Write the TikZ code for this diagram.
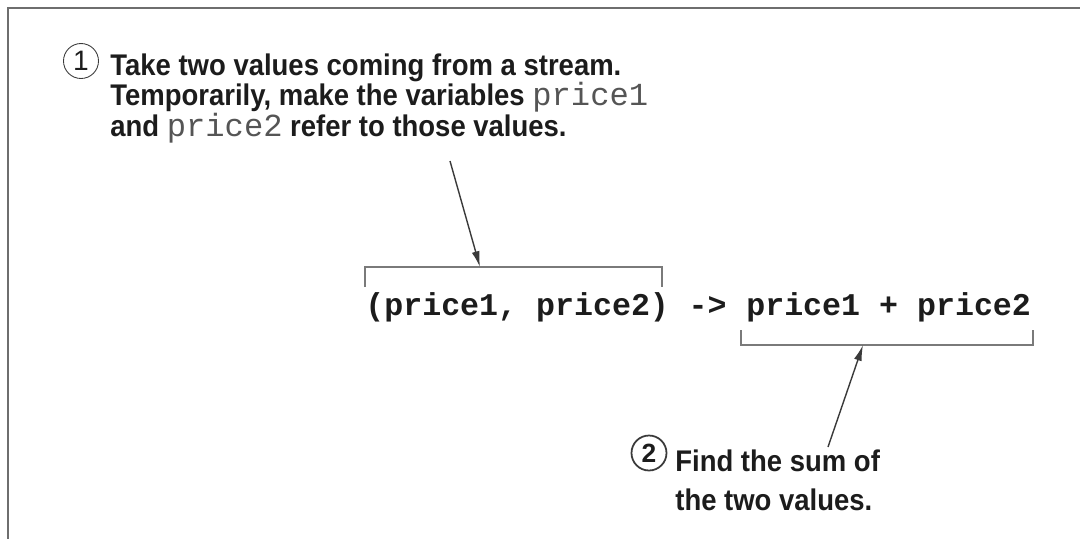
\documentclass[tikz,border=0pt]{standalone}
\usepackage{fontspec}
\setmainfont{Liberation Sans}
\newfontfamily\notefont{Liberation Sans}[FakeStretch=0.92]
\newfontfamily\codefont{Liberation Mono}
\usetikzlibrary{arrows.meta,positioning,calc}
\definecolor{Ink}{HTML}{1C1C1C}
\definecolor{Frame}{HTML}{6E6E6E}
\definecolor{Brace}{HTML}{7A7A7A}
\definecolor{Pointer}{HTML}{3A3A3A}
\definecolor{VarGray}{HTML}{555555}
\newcommand{\codeword}[1]{{\codefont\mdseries\fontsize{18.3}{17}\selectfont\color{VarGray}#1}}

\begin{document}
\begin{tikzpicture}[x=0.02cm, y=-0.02cm,
    note/.style={anchor=base west, inner sep=0pt, align=left, text=Ink, font=\notefont\bfseries\fontsize{17}{17.3}\selectfont},
    code/.style={anchor=base west, inner sep=0pt, text=Ink, font=\codefont\bfseries\fontsize{18}{20}\selectfont},
    badge/.style={circle, draw=Pointer, inner sep=0pt, minimum size=0.7cm, text=Ink},
    brace/.style={draw=Brace, line width=1pt},
    pointer/.style={-{Latex[length=9pt,width=4.5pt]}, draw=Pointer, line width=0.8pt},
]
    \useasboundingbox (0,0) rectangle (1080,539);
    \draw[Frame, line width=1.1pt] (1080,8) -- (8,8) -- (8,539);

    % the lambda
    \node[code] (args) at (365,315) {(price1, price2)};
    \node[code] (maps) at (args.base east) {\ ->\ \mbox{}};
    \node[code] (body) at (maps.base east) {price1 + price2};

    % brackets over the parameters and under the body
    \draw[brace] ($(args.base west)+(0,-28)$) -- ++(0,-20) -| ($(args.base east)+(-7,-28)$);
    \draw[brace] ($(body.base west)+(-5,15)$) -- ++(0,15) -| ($(body.base east)+(2,15)$);
    \coordinate (argsmid) at (480,267);
    \coordinate (bodymid) at (863,345);

    % callouts (base = last line)
    \node[badge, font=\fontsize{16}{16}\selectfont, line width=0.5pt] (one) at (81,61) {1};
    \node[note] (note1) at (110,136) {Take two values coming from a stream.\\Temporarily, make the variables \codeword{price1}\\and \codeword{price2} refer to those values.};
    \node[badge, font=\bfseries\fontsize{15}{15}\selectfont, line width=1pt] (two) at (649,453) {2};
    \node[note, font=\notefont\bfseries\fontsize{17}{22}\selectfont] (note2) at (675,510) {Find the sum of\\the two values.};

    \coordinate (tail1) at (450,161);
    \coordinate (tail2) at (828,447);
    \draw[pointer] (tail1) -- (argsmid);
    \draw[pointer] (tail2) -- (bodymid);
\end{tikzpicture}
\end{document}
